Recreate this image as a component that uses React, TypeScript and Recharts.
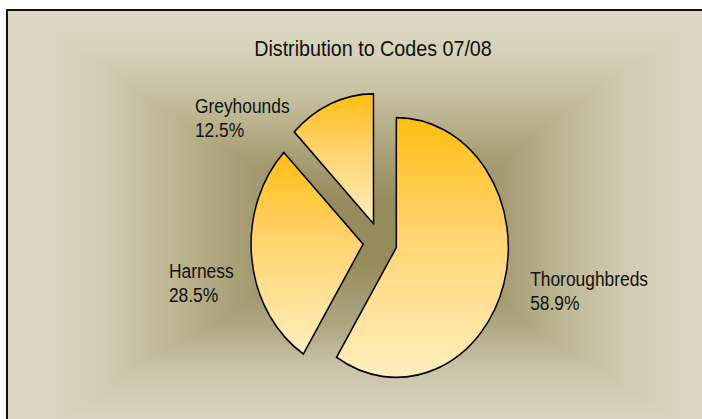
import { Cell, Pie, PieChart } from 'recharts';

const CATEGORIES = ['Thoroughbreds', 'Harness', 'Greyhounds'];
const SHARES = [58.9, 28.5, 12.5];
const TITLE = 'Distribution to Codes 07/08';

const data = CATEGORIES.map((name, i) => ({ name, value: SHARES[i] }));

// chart is drawn round, then stretched vertically like the original
const STRETCH = 1.16;
const W = 702;
const H = 419 / STRETCH;
const CX = 380;
const CY = 208.6;
const RADIUS = 112;
const EXPLODE = 17;
const FONT = '"Liberation Sans", Arial, sans-serif';
const RAD = Math.PI / 180;

// label block shift from the point just outside each slice
const LABEL_NUDGE = [
  [7, -3],
  [-63, 14.5],
  [-128, 26.5],
];

const TOTAL = SHARES.reduce((a, b) => a + b, 0);

function sliceOffset(i: number) {
  const before = SHARES.slice(0, i).reduce((a, b) => a + b, 0);
  const mid = ((before + SHARES[i] / 2) / TOTAL) * 2 * Math.PI;
  return { dx: Math.sin(mid) * EXPLODE, dy: -Math.cos(mid) * EXPLODE };
}

function makeLabel(target: number) {
  return (props: any) => {
    const { cx, cy, midAngle, outerRadius, index, name, value } = props;
    if (index !== target) return null;
    const r = outerRadius + 20;
    const x = cx + r * Math.cos(-midAngle * RAD) + LABEL_NUDGE[index][0];
    const y = cy + r * Math.sin(-midAngle * RAD) + LABEL_NUDGE[index][1];
    return (
      <text x={x} y={y} fill="#111" fontFamily={FONT} fontSize={17.4} textAnchor="start">
        <tspan x={x}>{name}</tspan>
        <tspan x={x} dy={20.5}>{`${value.toFixed(1)}%`}</tspan>
      </text>
    );
  };
}

const hGrad =
  'linear-gradient(to right, #dcd7c1 0px, #dad5bf 40px, #d2cdb4 94px, #bcb693 164px, #a39b70 244px, #958c5c 324px, #958c5c 414px, #a39b70 494px, #bdb794 554px, #cfcab0 614px, #dbd6c0 684px, #dcd7c1 730px)';
const vGrad =
  'linear-gradient(to bottom, #dcd7c1 0px, #d6d1b9 41px, #c3bd9b 91px, #a8a177 141px, #958c5c 191px, #958c5c 251px, #aca57f 311px, #cbc6aa 361px, #dad5bf 410px, #dcd7c1 450px)';

export default function App() {
  return (
    <div
      style={{
        position: 'fixed',
        left: 0,
        top: 0,
        width: 702,
        height: 419,
        overflow: 'hidden',
        background: '#fff',
      }}
    >
      <div
        style={{
          position: 'absolute',
          left: 6,
          top: 9,
          width: 740,
          height: 460,
          borderLeft: '2px solid #111',
          borderTop: '2px solid #111',
          backgroundColor: '#958c5c',
          backgroundImage: `${hGrad}, ${vGrad}`,
          backgroundBlendMode: 'lighten',
        }}
      />
      <svg width={0} height={0} style={{ position: 'absolute' }}>
        <defs>
          <linearGradient id="sliceFill" x1="0" y1="0" x2="0" y2="1">
            <stop offset="0%" stopColor="#ffbd14" />
            <stop offset="45%" stopColor="#ffd470" />
            <stop offset="100%" stopColor="#ffeebe" />
          </linearGradient>
        </defs>
      </svg>
      <div
        style={{
          position: 'absolute',
          left: 0,
          top: 0,
          width: W,
          height: H,
          transform: `scaleY(${STRETCH})`,
          transformOrigin: '0 0',
        }}
      >
        <svg width={W} height={H} style={{ position: 'absolute', left: 0, top: 0 }}>
          <text x={373} y={48} textAnchor="middle" fontFamily={FONT} fontSize={19.7} fill="#111">
            {TITLE}
          </text>
        </svg>
        <div style={{ position: 'absolute', left: 0, top: 0 }}>
          <PieChart width={W} height={H} margin={{ top: 0, right: 0, bottom: 0, left: 0 }}>
            {CATEGORIES.map((cat, target) => {
              const { dx, dy } = sliceOffset(target);
              return (
                <Pie
                  key={cat}
                  data={data}
                  dataKey="value"
                  nameKey="name"
                  cx={CX + dx}
                  cy={CY + dy}
                  outerRadius={RADIUS}
                  startAngle={90}
                  endAngle={-270}
                  isAnimationActive={false}
                  label={makeLabel(target)}
                  labelLine={false}
                >
                  {data.map((_, index) => (
                    <Cell
                      key={`cell-${index}`}
                      fill={index === target ? 'url(#sliceFill)' : 'transparent'}
                      stroke={index === target ? '#000' : 'none'}
                      strokeWidth={1.5}
                    />
                  ))}
                </Pie>
              );
            })}
          </PieChart>
        </div>
      </div>
    </div>
  );
}
